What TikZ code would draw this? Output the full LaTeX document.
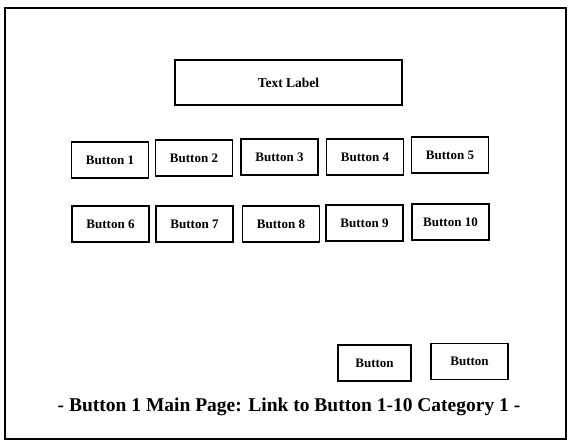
\documentclass[tikz,border=0pt]{standalone}
\usepackage{fontspec}
\setmainfont{Liberation Serif}
\begin{document}
\begin{tikzpicture}[x=1pt,y=-1pt,
  btn/.style={draw=black, line width=1.3pt, minimum width=77pt, minimum height=36pt,
    inner sep=0pt, font=\fontsize{13}{15}\selectfont\bfseries},
  labelbox/.style={btn, minimum width=227pt, minimum height=45pt, font=\fontsize{13.5}{15}\selectfont\bfseries},
  caption/.style={font=\fontsize{19.5}{22}\selectfont\bfseries, inner sep=0pt}]
  \useasboundingbox (0,0) rectangle (570,442);
  % page frame
  \draw[line width=2pt] (5,8) rectangle (566,439);
  % title area
  \node[labelbox] (title) at (288.5,82.5) {Text Label};
  % first row of category buttons
  \node[btn] (b1) at (110,160) {Button 1};
  \node[btn] (b2) at (194,158) {Button 2};
  \node[btn] (b3) at (279.5,157) {Button 3};
  \node[btn] (b4) at (365,157) {Button 4};
  \node[btn] (b5) at (450,155) {Button 5};
  % second row
  \node[btn] (b6) at (110.5,224) {Button 6};
  \node[btn] (b7) at (194.5,224) {Button 7};
  \node[btn] (b8) at (281,224) {Button 8};
  \node[btn] (b9) at (364.5,223) {Button 9};
  \node[btn] (b10) at (450.5,222) {Button 10};
  % navigation buttons
  \node[btn, minimum width=73pt] (nav1) at (374.5,363) {Button};
  \node[btn] (nav2) at (469.5,361.5) {Button};
  % caption
  \node[caption] (cap) at (289,407) {- Button 1 Main Page: Link to Button 1-10 Category 1 -};
\end{tikzpicture}
\end{document}
